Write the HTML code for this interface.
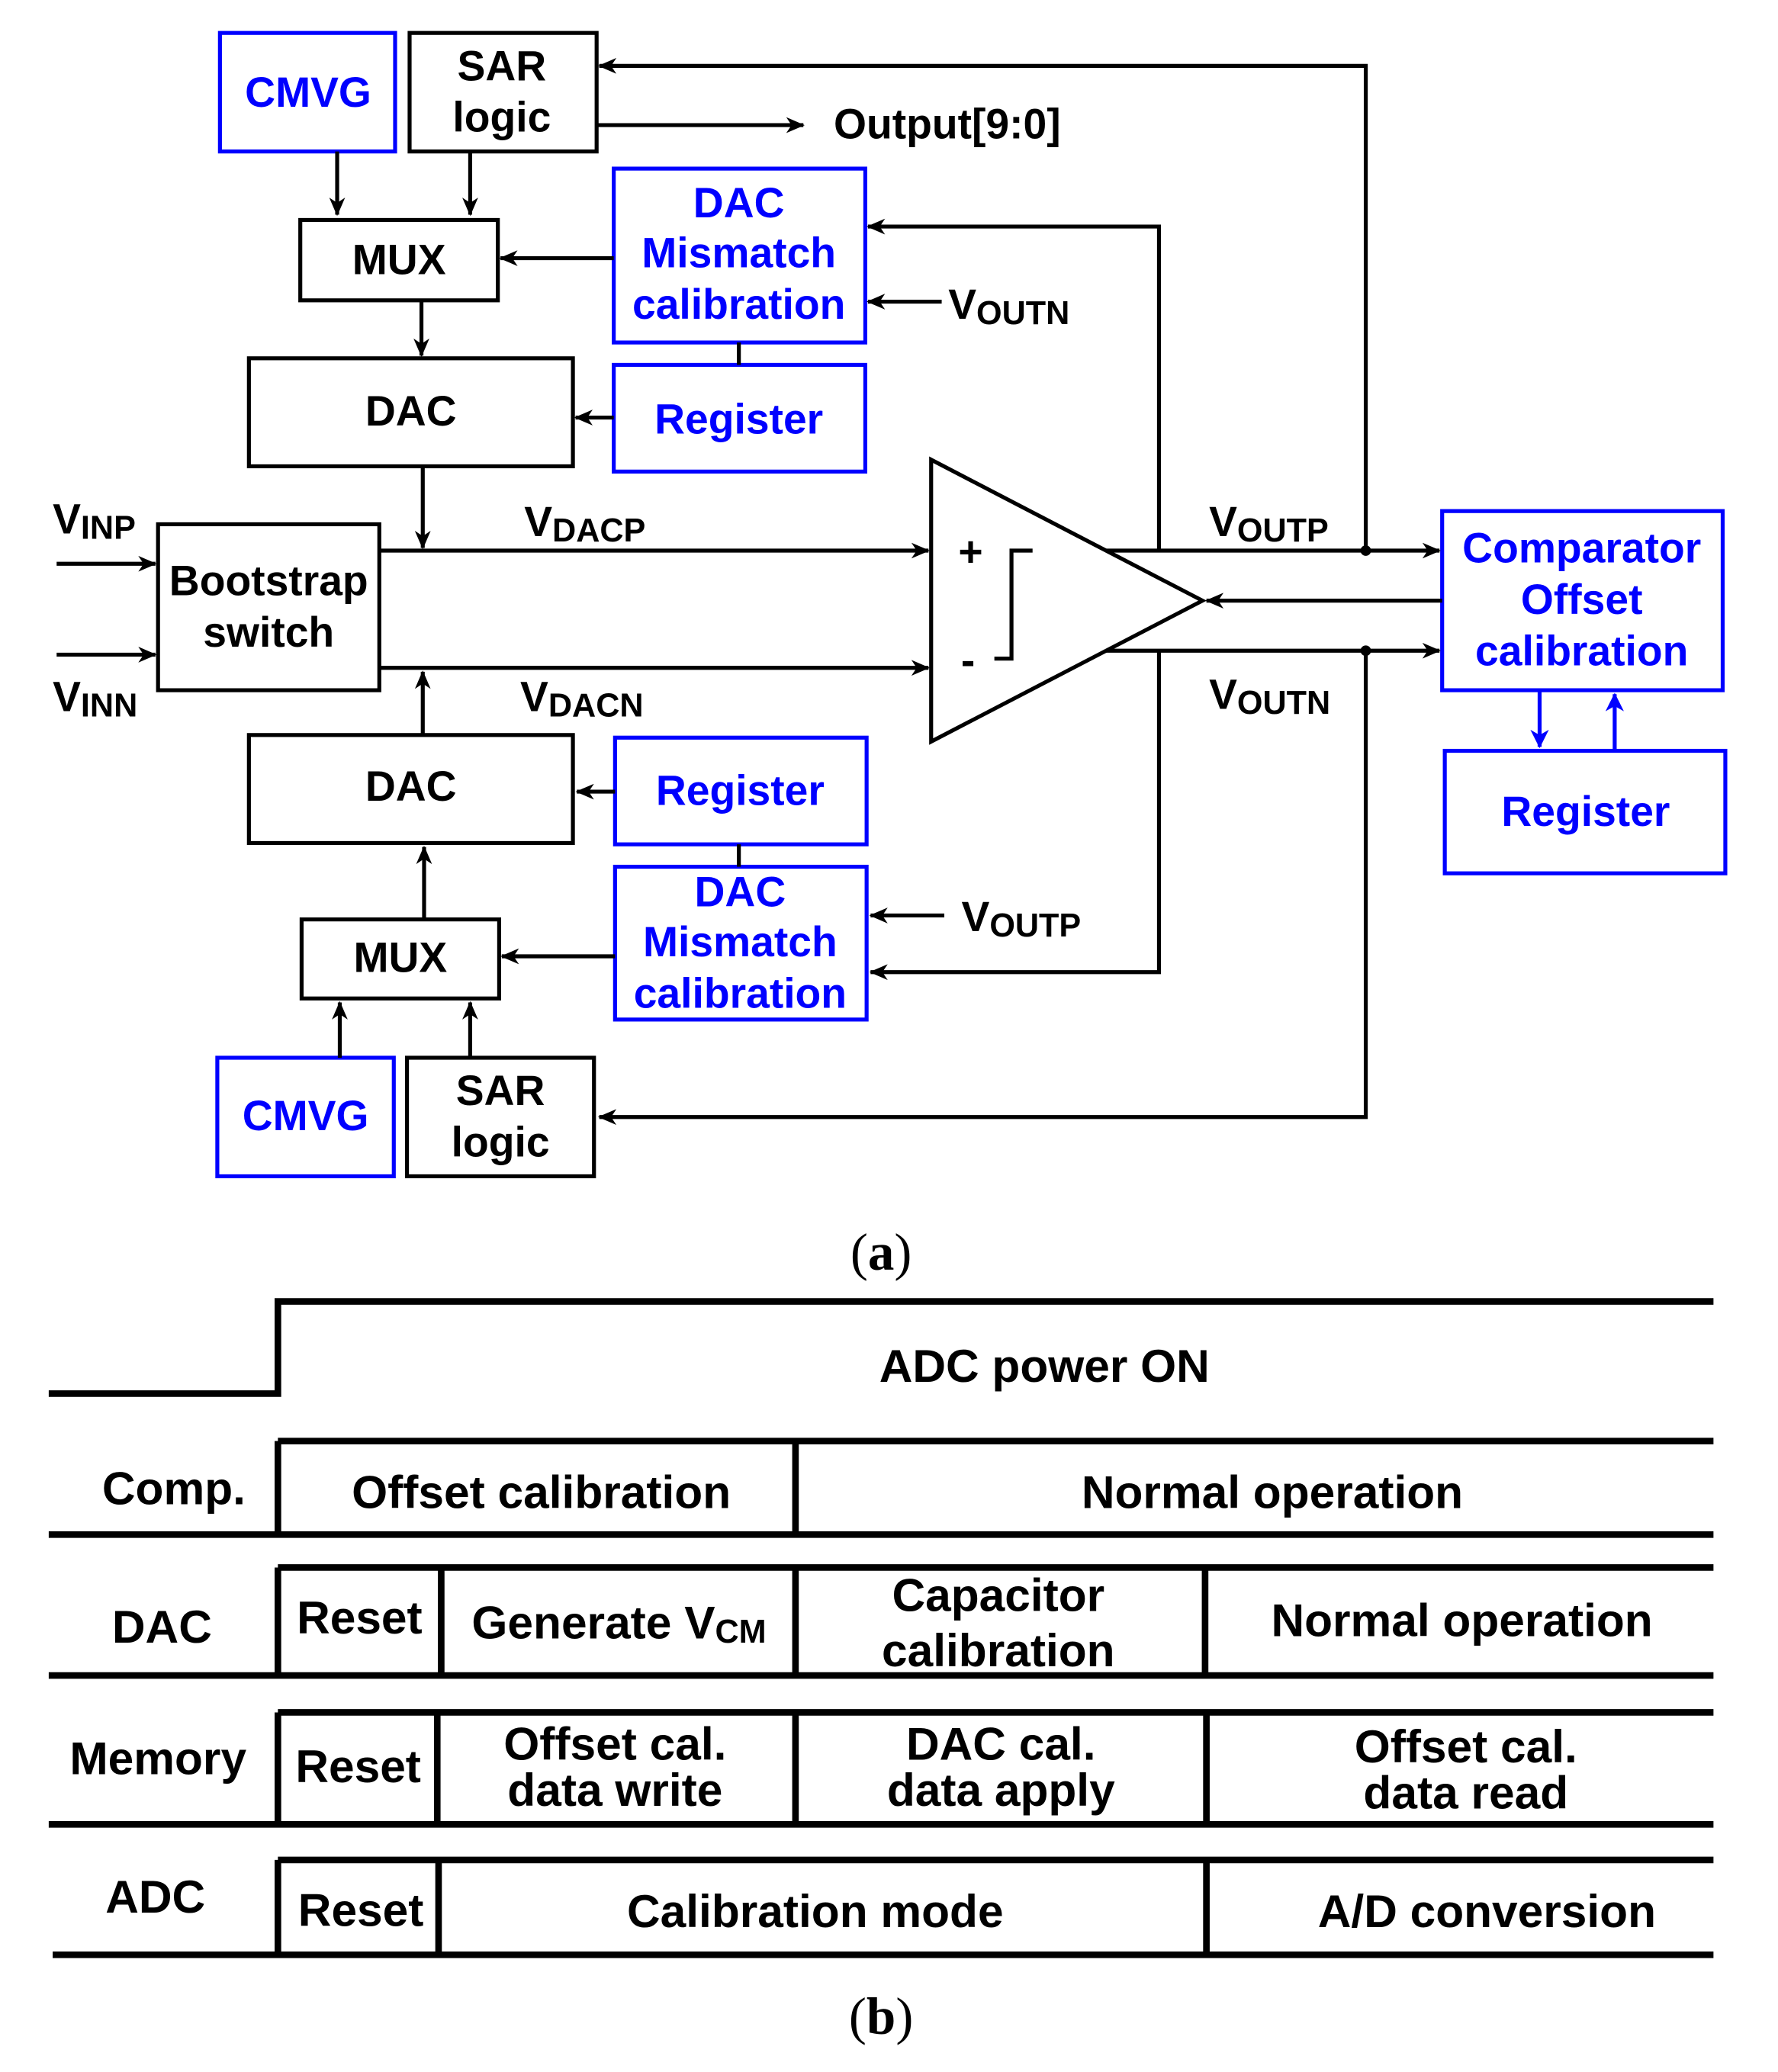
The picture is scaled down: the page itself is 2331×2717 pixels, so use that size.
<!DOCTYPE html>
<html><head><meta charset="utf-8"><style>
html,body{margin:0;padding:0;background:#fff;}
svg{display:block;}
text{font-family:"Liberation Sans",sans-serif;font-weight:bold;}
</style></head><body>
<svg width="2331" height="2717" viewBox="0 0 1350 1573" preserveAspectRatio="none" xmlns="http://www.w3.org/2000/svg">
<defs>
<marker id="a" markerWidth="14" markerHeight="12" refX="13" refY="6" orient="auto" markerUnits="userSpaceOnUse"><path d="M0,0 L14,6 L0,12 L4,6 z" fill="#000"/></marker>
<marker id="b" markerWidth="14" markerHeight="14" refX="13" refY="7" orient="auto" markerUnits="userSpaceOnUse"><path d="M0,0 L14,7 L0,14 L4,7 z" fill="#00f"/></marker>
</defs>
<g fill="none" stroke="#000" stroke-width="3">
<rect x="311" y="25" width="142" height="90"/>
<rect x="228" y="167" width="150" height="61"/>
<rect x="189" y="272" width="246" height="82"/>
<rect x="120" y="398" width="168" height="126"/>
<rect x="189" y="558" width="246" height="82"/>
<rect x="229" y="698" width="150" height="60"/>
<rect x="309" y="803" width="142" height="90"/>
<polygon points="707,349 707,563 913,456"/>
<polyline points="784,418 768,418 768,500 755,500"/>
</g>
<g fill="none" stroke="#00f" stroke-width="3">
<rect x="167" y="25" width="133" height="90"/>
<rect x="466" y="128" width="191" height="132"/>
<rect x="466" y="277" width="191" height="81"/>
<rect x="467" y="560" width="191" height="81"/>
<rect x="467" y="658" width="191" height="116"/>
<rect x="165" y="803" width="134" height="90"/>
<rect x="1095" y="388" width="213" height="136"/>
<rect x="1097" y="570" width="213" height="93"/>
<line x1="1169" y1="524" x2="1169" y2="567" marker-end="url(#b)"/>
<line x1="1226" y1="570" x2="1226" y2="527" marker-end="url(#b)"/>
</g>
<g fill="none" stroke="#000" stroke-width="3">
<line x1="561" y1="260" x2="561" y2="277"/>
<line x1="561" y1="641" x2="561" y2="658"/>
<line x1="453" y1="95" x2="610" y2="95" marker-end="url(#a)"/>
<polyline points="1037,418 1037,50 455,50" marker-end="url(#a)"/>
<line x1="256" y1="115" x2="256" y2="163" marker-end="url(#a)"/>
<line x1="357" y1="115" x2="357" y2="163" marker-end="url(#a)"/>
<line x1="466" y1="196" x2="380" y2="196" marker-end="url(#a)"/>
<polyline points="880,418 880,172 659,172" marker-end="url(#a)"/>
<line x1="715" y1="229" x2="659" y2="229" marker-end="url(#a)"/>
<line x1="466" y1="317" x2="437" y2="317" marker-end="url(#a)"/>
<line x1="320" y1="228" x2="320" y2="270" marker-end="url(#a)"/>
<line x1="321" y1="354" x2="321" y2="416" marker-end="url(#a)"/>
<line x1="43" y1="428" x2="118" y2="428" marker-end="url(#a)"/>
<line x1="43" y1="497" x2="118" y2="497" marker-end="url(#a)"/>
<line x1="288" y1="418" x2="705" y2="418" marker-end="url(#a)"/>
<line x1="288" y1="507" x2="705" y2="507" marker-end="url(#a)"/>
<line x1="840" y1="418" x2="1093" y2="418" marker-end="url(#a)"/>
<line x1="840" y1="494" x2="1093" y2="494" marker-end="url(#a)"/>
<line x1="1095" y1="456" x2="916" y2="456" marker-end="url(#a)"/>
<polyline points="1037,494 1037,848 455,848" marker-end="url(#a)"/>
<polyline points="880,494 880,738 661,738" marker-end="url(#a)"/>
<line x1="321" y1="558" x2="321" y2="510" marker-end="url(#a)"/>
<line x1="467" y1="601" x2="438" y2="601" marker-end="url(#a)"/>
<line x1="717" y1="695" x2="661" y2="695" marker-end="url(#a)"/>
<line x1="467" y1="726" x2="381" y2="726" marker-end="url(#a)"/>
<line x1="322" y1="698" x2="322" y2="643" marker-end="url(#a)"/>
<line x1="258" y1="803" x2="258" y2="761" marker-end="url(#a)"/>
<line x1="357" y1="803" x2="357" y2="761" marker-end="url(#a)"/>
</g>
<circle cx="1037" cy="418" r="4"/><circle cx="1037" cy="494" r="4"/>
<g font-size="32" text-anchor="middle" fill="#000">
<text x="381" y="61">SAR</text><text x="381" y="100">logic</text>
<text x="303" y="208">MUX</text>
<text x="312" y="323">DAC</text>
<text x="204" y="452">Bootstrap</text><text x="204" y="491">switch</text>
<text x="312" y="608">DAC</text>
<text x="304" y="738">MUX</text>
<text x="380" y="839">SAR</text><text x="380" y="878">logic</text>
<text x="737" y="430">+</text><text x="735" y="512">-</text>
</g>
<g font-size="32" text-anchor="middle" fill="#00f">
<text x="234" y="81">CMVG</text>
<text x="561" y="165">DAC</text><text x="561" y="203">Mismatch</text><text x="561" y="242">calibration</text>
<text x="561" y="329">Register</text>
<text x="562" y="611">Register</text>
<text x="562" y="688">DAC</text><text x="562" y="726">Mismatch</text><text x="562" y="765">calibration</text>
<text x="232" y="858">CMVG</text>
<text x="1201" y="427">Comparator</text><text x="1201" y="466">Offset</text><text x="1201" y="505">calibration</text>
<text x="1204" y="627">Register</text>
</g>
<g font-size="32" fill="#000">
<text x="633" y="105">Output[9:0]</text>
<text x="720" y="242">V<tspan font-size="25" dy="4">OUTN</tspan></text>
<text x="40" y="405">V<tspan font-size="25" dy="4">INP</tspan></text>
<text x="40" y="540">V<tspan font-size="25" dy="4">INN</tspan></text>
<text x="398" y="407">V<tspan font-size="25" dy="4">DACP</tspan></text>
<text x="395" y="540">V<tspan font-size="25" dy="4">DACN</tspan></text>
<text x="918" y="407">V<tspan font-size="25" dy="4">OUTP</tspan></text>
<text x="918" y="538">V<tspan font-size="25" dy="4">OUTN</tspan></text>
<text x="730" y="707">V<tspan font-size="25" dy="4">OUTP</tspan></text>
</g>
<text x="669" y="964" font-size="40" text-anchor="middle" style="font-family:'Liberation Serif',serif;font-weight:normal">(<tspan font-weight="bold">a</tspan>)</text>
<text x="669" y="1544" font-size="40" text-anchor="middle" style="font-family:'Liberation Serif',serif;font-weight:normal">(<tspan font-weight="bold">b</tspan>)</text>
<g fill="none" stroke="#000" stroke-width="5">
<polyline points="37,1058 211,1058 211,988 1301,988"/>
<line x1="211" y1="1094" x2="1301" y2="1094"/><line x1="37" y1="1165" x2="1301" y2="1165"/>
<line x1="211" y1="1094" x2="211" y2="1165"/><line x1="604" y1="1094" x2="604" y2="1165"/>
<line x1="211" y1="1190" x2="1301" y2="1190"/><line x1="37" y1="1272" x2="1301" y2="1272"/>
<line x1="211" y1="1190" x2="211" y2="1272"/><line x1="335" y1="1190" x2="335" y2="1272"/><line x1="604" y1="1190" x2="604" y2="1272"/><line x1="915" y1="1190" x2="915" y2="1272"/>
<line x1="211" y1="1300" x2="1301" y2="1300"/><line x1="37" y1="1385" x2="1301" y2="1385"/>
<line x1="211" y1="1300" x2="211" y2="1385"/><line x1="332" y1="1300" x2="332" y2="1385"/><line x1="604" y1="1300" x2="604" y2="1385"/><line x1="916" y1="1300" x2="916" y2="1385"/>
<line x1="211" y1="1412" x2="1301" y2="1412"/><line x1="40" y1="1484" x2="1301" y2="1484"/>
<line x1="211" y1="1412" x2="211" y2="1484"/><line x1="333" y1="1412" x2="333" y2="1484"/><line x1="916" y1="1412" x2="916" y2="1484"/>
</g>
<g font-size="35" text-anchor="middle" fill="#000">
<text x="793" y="1049">ADC power ON</text>
<text x="132" y="1142">Comp.</text><text x="411" y="1145">Offset calibration</text><text x="966" y="1145">Normal operation</text>
<text x="123" y="1247">DAC</text><text x="273" y="1240">Reset</text>
<text x="470" y="1244">Generate V<tspan font-size="25" dy="3">CM</tspan></text>
<text x="758" y="1223">Capacitor</text><text x="758" y="1265">calibration</text><text x="1110" y="1242">Normal operation</text>
<text x="120" y="1347">Memory</text><text x="272" y="1353">Reset</text>
<text x="467" y="1336">Offset cal.</text><text x="467" y="1371">data write</text>
<text x="760" y="1336">DAC cal.</text><text x="760" y="1371">data apply</text>
<text x="1113" y="1338">Offset cal.</text><text x="1113" y="1373">data read</text>
<text x="118" y="1452">ADC</text><text x="274" y="1462">Reset</text><text x="619" y="1463">Calibration mode</text><text x="1129" y="1463">A/D conversion</text>
</g>
</svg>
</body></html>
